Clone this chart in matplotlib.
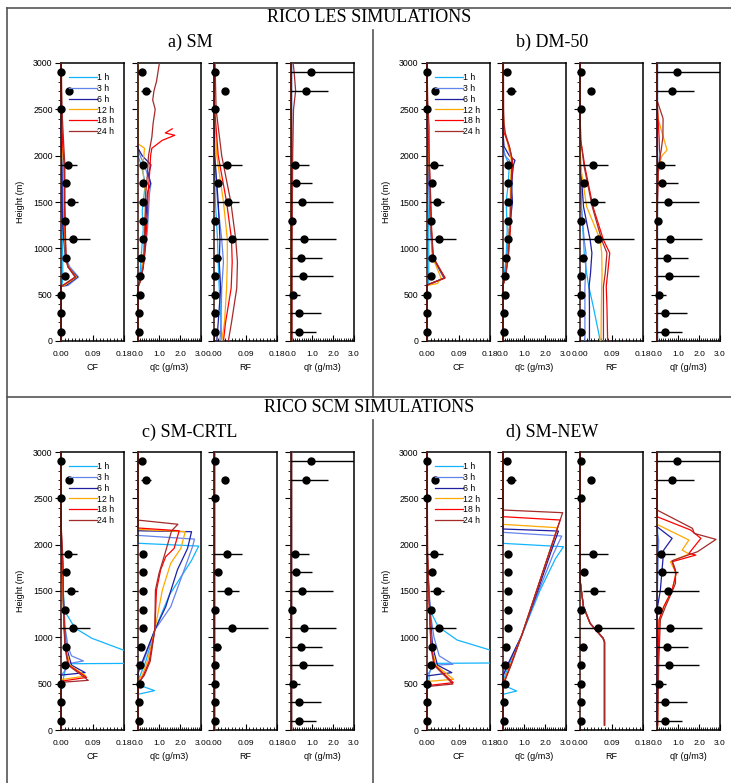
import numpy as np
import matplotlib
matplotlib.use('Agg')
import matplotlib.pyplot as plt
from matplotlib.lines import Line2D
from matplotlib.ticker import MultipleLocator
from matplotlib.transforms import Bbox, TransformedBbox

plt.rcParams['font.family'] = ['Liberation Sans', 'DejaVu Sans']

nan = np.nan
hours = ['1 h', '3 h', '6 h', '12 h', '18 h', '24 h']
colors = ['#12b4ff', '#6384ea', '#1f1fa3', '#ffa800', '#ff0000', '#a52a2a']

# observations (same in every panel)
obs_z = [100, 300, 500, 700, 900, 1100, 1300, 1500, 1700, 1900, 2500, 2700, 2900]
obs_cf = [0, 0, 0, 0.011, 0.014, 0.033, 0.011, 0.028, 0.013, 0.021, 0, 0.024, 0]
obs_cf_err = [0, 0, 0, 0, 0.004, 0.05, 0, 0.02, 0, 0.025, 0, 0, 0]
obs_qc = [0.03, 0.03, 0.09, 0.09, 0.15, 0.22, 0.22, 0.22, 0.25, 0.22, nan, 0.38, 0.18]
obs_qc_err = [0, 0, 0, 0, 0, 0, 0, 0, 0, 0, 0, 0.22, 0]
obs_rf = [0.002, 0.002, 0.002, 0.002, 0.008, 0.05, 0.002, 0.039, 0.012, 0.038, 0.002, 0.03, 0.002]
obs_rf_err = [0, 0, 0, 0, 0.012, 0.105, 0, 0.031, 0, 0.041, 0, 0, 0]
obs_qr = [0.37, 0.4, 0.1, 0.55, 0.47, 0.63, 0.03, 0.53, 0.23, 0.19, nan, 0.71, 0.95]
obs_qr_err = [0.82, 1.05, 0.31, 1.45, 1.02, 1.5, 0, 1.48, 0.77, 0.65, 0, 1.06, 2.5]

# ---- a) SM (LES) ----
a_cf_z = [0, 590, 600, 690, 800, 900, 1100, 1300, 1500, 1700, 1900, 2100, 2400, 2700, 3000]
a_cf = [
    [0, 0, 0.003, 0.005, 0.005, 0.005, 0.004, 0.004, 0.004, 0.003, 0.002, 0.001, 0, 0, 0],
    [0, 0, 0.02, 0.05, 0.025, 0.014, 0.009, 0.007, 0.006, 0.005, 0.004, 0.002, 0, 0, 0],
    [0, 0, 0.015, 0.047, 0.02, 0.012, 0.008, 0.004, 0.003, 0.003, 0.002, 0.001, 0, 0, 0],
    [0, 0, 0.01, 0.044, 0.02, 0.013, 0.011, 0.01, 0.009, 0.008, 0.007, 0.004, 0.001, 0, 0],
    [0, 0, 0.005, 0.042, 0.02, 0.014, 0.012, 0.011, 0.01, 0.01, 0.009, 0.005, 0.002, 0, 0],
    [0, 0, 0.005, 0.04, 0.02, 0.015, 0.013, 0.012, 0.011, 0.011, 0.011, 0.008, 0.004, 0.002, 0.001],
]
a_qc_z = [
    [0, 580, 650, 800, 1000, 1200, 1400, 1600, 1700, 1800, 1900, 2000, 3000],
    [0, 580, 650, 800, 1000, 1200, 1400, 1600, 1700, 1800, 1900, 2000, 2080, 3000],
    [0, 580, 650, 800, 1000, 1200, 1400, 1600, 1700, 1800, 1900, 2000, 2080, 3000],
    [0, 580, 650, 800, 1000, 1200, 1400, 1600, 1700, 1800, 1900, 2000, 2080, 2130, 3000],
    [0, 580, 650, 800, 1000, 1200, 1400, 1600, 1800, 2000, 2080, 2130, 2165, 2220, 2245, 2290],
    [0, 580, 650, 800, 1000, 1200, 1400, 1600, 1800, 2000, 2200, 2350, 2500, 2600, 2700, 2800, 2900, 3000],
]
a_qc = [
    [0, 0, 0.08, 0.12, 0.18, 0.25, 0.2, 0.3, 0.35, 0.25, 0.15, 0, 0],
    [0, 0, 0.12, 0.25, 0.35, 0.45, 0.5, 0.55, 0.62, 0.45, 0.3, 0.1, 0, 0],
    [0, 0, 0.1, 0.2, 0.3, 0.35, 0.4, 0.45, 0.6, 0.5, 0.62, 0.2, 0, 0],
    [0, 0, 0.12, 0.2, 0.28, 0.3, 0.35, 0.35, 0.3, 0.25, 0.22, 0.28, 0.31, 0, 0],
    [0, 0, 0.1, 0.25, 0.35, 0.4, 0.45, 0.48, 0.55, 0.6, 0.66, 0.95, 1.15, 1.75, 1.3, 1.63],
    [0, 0, 0.12, 0.25, 0.3, 0.32, 0.35, 0.37, 0.45, 0.5, 0.66, 0.72, 0.82, 0.7, 0.76, 0.88, 0.95, 1.02],
]
a_rf_z = [0, 200, 570, 850, 1100, 1500, 2000, 2500, 3000]
a_rf = [
    [0.022, 0.02, 0.015, 0.012, 0.01, 0.004, 0.0, 0, 0],
    [0.017, 0.02, 0.022, 0.027, 0.022, 0.01, 0.002, 0, 0],
    [0.008, 0.012, 0.019, 0.015, 0.017, 0.012, 0.002, 0, 0],
    [0.022, 0.03, 0.036, 0.038, 0.038, 0.027, 0.008, 0.001, 0],
    [0.027, 0.033, 0.049, 0.052, 0.05, 0.036, 0.012, 0.002, 0],
    [0.041, 0.05, 0.065, 0.067, 0.062, 0.048, 0.022, 0.006, 0.003],
]
a_qr_z = [0, 1000, 2000, 2500, 2700, 2900, 3000]
a_qr = [
    [0, 0, 0, 0, 0, 0, 0],
    [0, 0, 0, 0, 0, 0, 0],
    [0, 0, 0, 0, 0, 0, 0],
    [0, 0, 0.02, 0, 0, 0, 0],
    [0.03, 0.03, 0.04, 0.02, 0, 0, 0],
    [0.05, 0.05, 0.08, 0.12, 0.22, 0.15, 0.1],
]

# ---- b) DM-50 (LES) ----
b_cf_z = [0, 600, 620, 680, 900, 1200, 1500, 2000, 2300, 2600, 3000]
b_cf = [
    [0, 0, 0.005, 0.005, 0.005, 0.005, 0.003, 0.001, 0, 0, 0],
    [0, 0, 0.015, 0.048, 0.016, 0.01, 0.007, 0.003, 0, 0, 0],
    [0, 0, 0.01, 0.05, 0.017, 0.011, 0.008, 0.004, 0.001, 0, 0],
    [0, 0, 0.03, 0.04, 0.016, 0.012, 0.009, 0.005, 0.002, 0, 0],
    [0, 0, 0.01, 0.052, 0.018, 0.013, 0.01, 0.006, 0.003, 0, 0],
    [0, 0, 0.01, 0.05, 0.018, 0.013, 0.011, 0.006, 0.006, 0.002, 0],
]
b_qc_z = [0, 600, 700, 900, 1200, 1500, 1700, 1900, 1950, 2000, 2100, 2250, 2350, 2500, 3000]
b_qc = [
    [0, 0, 0.05, 0.15, 0.2, 0.15, 0.25, 0.3, 0.2, 0.1, 0, 0, 0, 0, 0],
    [0, 0, 0.1, 0.2, 0.3, 0.35, 0.45, 0.4, 0.3, 0.1, 0, 0, 0, 0, 0],
    [0, 0, 0.1, 0.2, 0.3, 0.45, 0.4, 0.5, 0.57, 0.3, 0.05, 0, 0, 0, 0],
    [0, 0, 0.1, 0.22, 0.3, 0.35, 0.35, 0.4, 0.4, 0.35, 0.25, 0.1, 0.05, 0, 0],
    [0, 0, 0.12, 0.25, 0.35, 0.4, 0.4, 0.45, 0.45, 0.4, 0.3, 0.05, 0, 0, 0],
    [0, 0, 0.12, 0.25, 0.33, 0.38, 0.4, 0.42, 0.42, 0.4, 0.3, 0.1, 0.05, 0.03, 0.02],
]
b_rf_z = [0, 370, 590, 730, 950, 1090, 1450, 1880, 2170, 2500, 3000]
b_rf = [
    [0.058, 0.038, 0.025, 0.019, 0.012, 0.01, 0.004, 0, 0, 0, 0],
    [0.014, 0.014, 0.014, 0.016, 0.017, 0.012, 0.004, 0.001, 0, 0, 0],
    [0.027, 0.027, 0.026, 0.03, 0.034, 0.029, 0.01, 0.002, 0, 0, 0],
    [0.06, 0.061, 0.062, 0.063, 0.062, 0.058, 0.019, 0.002, 0, 0, 0],
    [0.079, 0.077, 0.075, 0.079, 0.085, 0.067, 0.037, 0.014, 0.002, 0, 0],
    [0.067, 0.067, 0.067, 0.072, 0.077, 0.062, 0.035, 0.012, 0.002, 0, 0],
]
b_qr_z = [0, 1500, 1800, 1900, 2000, 2060, 2200, 2400, 2600, 3000]
b_qr = [
    [0, 0, 0, 0, 0, 0, 0, 0, 0, 0],
    [0, 0, 0, 0, 0, 0, 0, 0, 0, 0],
    [0, 0, 0.02, 0.03, 0.02, 0, 0, 0, 0, 0],
    [0, 0, 0.05, 0.1, 0.24, 0.48, 0.3, 0.05, 0, 0],
    [0, 0.02, 0.05, 0.1, 0.15, 0.12, 0.1, 0.05, 0, 0],
    [0, 0.02, 0.05, 0.1, 0.15, 0.2, 0.28, 0.29, 0, 0],
]

# ---- c) SM-CRTL (SCM) ----
c_cf_z = [
    [0, 440, 460, 560, 700, 715, 720, 790, 860, 990, 1100, 1280, 1600, 2000, 3000],
    [0, 590, 593, 719, 745, 800, 900, 1100, 1400, 1800, 2100, 3000],
    [0, 590, 593, 619, 700, 900, 1100, 1400, 1800, 2100, 3000],
    [0, 540, 545, 583, 700, 900, 1100, 1400, 1800, 2150, 3000],
    [0, 522, 527, 568, 700, 900, 1100, 1400, 1800, 2200, 3000],
    [0, 510, 515, 536, 700, 900, 1100, 1400, 1800, 2250, 3000],
]
c_cf = [
    [0, 0, 0.007, 0.007, 0.015, 0.02, 0.25, 0.3, 0.18, 0.088, 0.04, 0.011, 0.004, 0, 0],
    [0, 0, 0.002, 0.026, 0.064, 0.03, 0.02, 0.012, 0.007, 0.003, 0, 0],
    [0, 0, 0.002, 0.069, 0.03, 0.015, 0.01, 0.006, 0.003, 0, 0],
    [0, 0, 0.002, 0.071, 0.025, 0.013, 0.009, 0.006, 0.004, 0, 0],
    [0, 0, 0.002, 0.073, 0.022, 0.012, 0.009, 0.007, 0.005, 0, 0],
    [0, 0, 0.002, 0.078, 0.02, 0.011, 0.009, 0.007, 0.006, 0, 0],
]
c_qc_z = [
    [0, 385, 425, 480, 560, 740, 1080, 1460, 1830, 1985, 2015, 3000],
    [0, 620, 650, 740, 1080, 1330, 1730, 1980, 2060, 2100, 3000],
    [0, 600, 650, 740, 1080, 1330, 1730, 1960, 2140, 2150, 3000],
    [0, 540, 590, 740, 1080, 1510, 1800, 1960, 2140, 2165, 3000],
    [0, 500, 590, 740, 1080, 1510, 1730, 1870, 1960, 2150, 2180, 3000],
    [0, 500, 590, 740, 1080, 1510, 1690, 1870, 2150, 2220, 2265, 3000],
]
c_qc = [
    [0, 0, 0.79, 0.1, 0.05, 0.37, 0.8, 1.5, 2.55, 2.89, 0, 0],
    [0, 0, 0.05, 0.26, 0.8, 1.56, 2.2, 2.6, 2.69, 0, 0],
    [0, 0, 0.05, 0.21, 0.8, 1.32, 1.88, 2.36, 2.55, 0, 0],
    [0, 0, 0.2, 0.45, 0.8, 1.16, 1.56, 2.04, 2.25, 0, 0],
    [0, 0, 0.26, 0.53, 0.8, 0.88, 1.08, 1.32, 1.72, 1.96, 0, 0],
    [0, 0, 0.3, 0.58, 0.8, 0.83, 1.0, 1.24, 1.6, 1.9, 0, 0],
]
c_rf_z = [0, 3000]
c_rf = [[0, 0]] * 6
c_qr_z = [0, 3000]
c_qr = [[0, 0]] * 6

# ---- d) SM-NEW (SCM) ----
d_cf_z = [
    [0, 440, 460, 600, 705, 719, 725, 800, 863, 971, 1115, 1295, 1600, 2000, 3000],
    [0, 600, 605, 700, 709, 800, 1000, 1200, 1500, 1900, 3000],
    [0, 580, 585, 619, 700, 900, 1200, 1500, 1900, 3000],
    [0, 520, 525, 547, 700, 900, 1200, 1500, 1900, 3000],
    [0, 470, 480, 511, 700, 900, 1200, 1500, 1900, 3000],
    [0, 465, 470, 496, 700, 900, 1200, 1500, 1900, 3000],
]
d_cf = [
    [0, 0, 0.006, 0.006, 0.015, 0.02, 0.25, 0.3, 0.18, 0.086, 0.032, 0.008, 0.003, 0, 0],
    [0, 0, 0.003, 0.02, 0.074, 0.035, 0.02, 0.012, 0.006, 0.001, 0],
    [0, 0, 0.003, 0.071, 0.03, 0.016, 0.01, 0.005, 0.001, 0],
    [0, 0, 0.003, 0.076, 0.025, 0.013, 0.008, 0.005, 0.001, 0],
    [0, 0, 0.003, 0.075, 0.022, 0.012, 0.008, 0.005, 0.001, 0],
    [0, 0, 0.003, 0.074, 0.02, 0.011, 0.008, 0.005, 0.002, 0],
]
d_qc_z = [
    [0, 385, 421, 470, 560, 720, 1020, 1500, 1850, 1978, 2014, 3000],
    [0, 600, 720, 1020, 1500, 1900, 2000, 2093, 2133, 3000],
    [0, 580, 720, 1020, 1500, 1900, 2147, 2169, 3000],
    [0, 500, 720, 1020, 2183, 2219, 3000],
    [0, 485, 720, 1020, 2266, 2302, 3000],
    [0, 480, 720, 1020, 2345, 2374, 3000],
]
d_qc = [
    [0, 0, 0.65, 0.15, 0.05, 0.32, 0.89, 1.75, 2.5, 2.88, 0, 0],
    [0, 0, 0.28, 0.89, 1.7, 2.4, 2.6, 2.8, 0, 0],
    [0, 0, 0.25, 0.89, 1.65, 2.25, 2.64, 0, 0],
    [0, 0, 0.38, 0.89, 2.59, 0, 0],
    [0, 0, 0.4, 0.89, 2.72, 0, 0],
    [0, 0, 0.42, 0.89, 2.84, 0, 0],
]
d_rf_z = [54, 950, 990, 1025, 1150, 1330, 1620, 3000]
d_rf = [[0.07, 0.07, 0.066, 0.058, 0.029, 0.01, 0, 0]] * 6
d_qr_z = [
    [54, 1500, 2000, 2150, 2200, 3000],
    [54, 1300, 1800, 2050, 2150, 3000],
    [54, 1295, 1510, 1727, 1942, 2068, 2194, 3000],
    [54, 700, 1190, 1330, 1510, 1690, 1816, 1899, 1942, 2050, 2219, 3000],
    [54, 700, 1190, 1330, 1510, 1690, 1816, 1888, 1906, 2068, 2158, 2302, 3000],
    [54, 700, 1190, 1330, 1510, 1583, 1727, 1827, 1924, 2057, 2122, 2176, 2374, 3000],
]
d_qr = [
    [0, 0, 0.03, 0.03, 0, 0],
    [0, 0, 0.05, 0.08, 0, 0],
    [0, 0, 0.16, 0.24, 0.32, 0.72, 0, 0],
    [0.03, 0.05, 0.1, 0.32, 0.72, 0.91, 0.64, 1.52, 1.2, 1.52, 0, 0],
    [0.03, 0.05, 0.1, 0.32, 0.72, 0.91, 0.72, 1.85, 1.52, 2.09, 1.6, 0, 0],
    [0.03, 0.08, 0.16, 0.4, 0.75, 0.88, 0.88, 0.72, 1.93, 2.81, 1.77, 1.69, 0, 0],
]

panels = [
    ('a) SM', [(a_cf_z, a_cf), (a_qc_z, a_qc), (a_rf_z, a_rf), (a_qr_z, a_qr)]),
    ('b) DM-50', [(b_cf_z, b_cf), (b_qc_z, b_qc), (b_rf_z, b_rf), (b_qr_z, b_qr)]),
    ('c) SM-CRTL', [(c_cf_z, c_cf), (c_qc_z, c_qc), (c_rf_z, c_rf), (c_qr_z, c_qr)]),
    ('d) SM-NEW', [(d_cf_z, d_cf), (d_qc_z, d_qc), (d_rf_z, d_rf), (d_qr_z, d_qr)]),
]
obs = [(obs_cf, obs_cf_err), (obs_qc, obs_qc_err), (obs_rf, obs_rf_err), (obs_qr, obs_qr_err)]
xlabels = ['CF', 'q\u0304c (g/m3)', 'RF', 'q\u0304r (g/m3)']

W, H = 731, 783
fig = plt.figure(figsize=(W / 100, H / 100), dpi=100)

def px(x0, y0, w, h):
    return [x0 / W, 1 - (y0 + h) / H, w / W, h / H]

col_x = [[61, 138, 214, 291], [427, 503, 580, 657]]
row_top = [63, 452]

for p, (title, profs) in enumerate(panels):
    r, c = divmod(p, 2)
    for k in range(4):
        ax = fig.add_axes(px(col_x[c][k], row_top[r], 63, 278))
        zs, vals = profs[k]
        cb = TransformedBbox(Bbox([[-0.04, 0], [1, 1]]), ax.transAxes)
        for i in range(6):
            z = zs[i] if isinstance(zs[0], list) else zs
            ln, = ax.plot(vals[i], z, color=colors[i], lw=0.9, label=hours[i], zorder=3)
            ln.set_clip_box(cb)
        ov, oe = obs[k]
        ax.errorbar(ov, obs_z, xerr=oe, fmt='none', ecolor='black', elinewidth=1.0, capsize=0, zorder=4)
        ax.plot(ov, obs_z, 'o', color='black', ms=5, clip_on=False, zorder=5)
        ax.set_ylim(0, 3000)
        if k in (0, 2):
            ax.set_xlim(0, 0.18)
            ax.set_xticks([0, 0.09, 0.18])
            ax.set_xticklabels(['0.00', '0.09', '0.18'])
            ax.xaxis.set_minor_locator(MultipleLocator(0.01))
        else:
            ax.set_xlim(0, 3)
            ax.set_xticks([0, 1, 2, 3])
            ax.set_xticklabels(['0.0', '1.0', '2.0', '3.0'])
            ax.xaxis.set_minor_locator(MultipleLocator(0.1))
        ax.set_yticks(np.arange(0, 3001, 500))
        ax.yaxis.set_minor_locator(MultipleLocator(100))
        ax.tick_params(axis='y', which='major', direction='out', length=4, width=0.8, labelsize=6.3, pad=2)
        ax.tick_params(axis='y', which='minor', direction='out', length=2, width=0.6)
        ax.tick_params(axis='x', which='major', direction='in', length=4, width=0.8, labelsize=6.1, pad=7)
        ax.tick_params(axis='x', which='minor', direction='in', length=2, width=0.6)
        ax.set_xlabel(xlabels[k], fontsize=6.5, labelpad=4)
        for s in ax.spines.values():
            s.set_linewidth(1.1)
        # lines at zero sit on the left spine, which shows through dark brown
        ax.spines['left'].set_color('#3a120a')
        ax.spines['left'].set_zorder(3.5)
        if k == 0:
            ax.set_ylabel('Height (m)', fontsize=6.5, labelpad=6)
            ax.legend(loc='upper left', bbox_to_anchor=(0.12, 0.965), frameon=False, fontsize=6.3,
                      handlelength=3.2, handletextpad=0.05, labelspacing=0.22, borderpad=0, borderaxespad=0)
        else:
            ax.tick_params(axis='y', labelleft=False)
    cx = (7 + 373) / 2 if c == 0 else (373 + 731) / 2
    ty = 42 if r == 0 else 432
    fig.text(cx / W, 1 - ty / H, title, ha='center', va='center', fontsize=13, family='Liberation Serif')

fig.text(369 / W, 1 - 17 / H, 'RICO LES SIMULATIONS', ha='center', va='center', fontsize=13, family='Liberation Serif')
fig.text(369 / W, 1 - 407 / H, 'RICO SCM SIMULATIONS', ha='center', va='center', fontsize=13, family='Liberation Serif')

# table-style frame lines
frame = [((7, 7), (8, 783)), ((7, 731), (8, 8)), ((7, 731), (397, 397)),
         ((373, 373), (30, 397)), ((373, 373), (420, 783))]
for xs, ys in frame:
    fig.add_artist(Line2D([x / W for x in xs], [1 - y / H for y in ys], color='#555555', lw=1.2))

fig.savefig('out.png', dpi=100)
